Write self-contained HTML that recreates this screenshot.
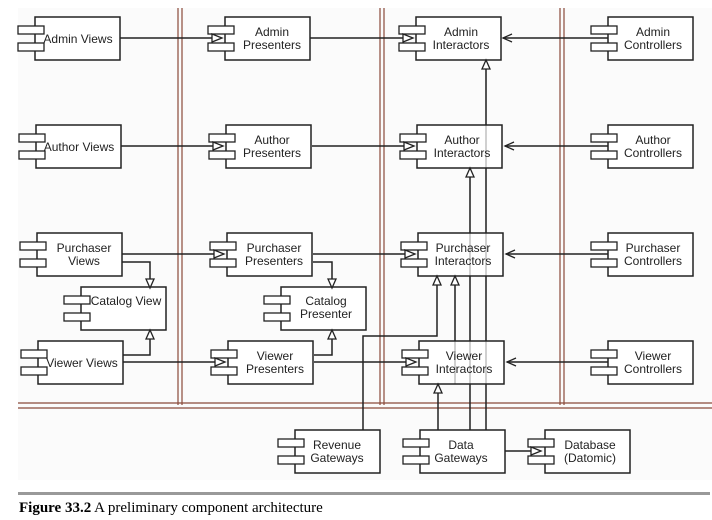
<!DOCTYPE html>
<html><head><meta charset="utf-8"><style>
html,body{margin:0;padding:0;background:#fff;width:712px;height:520px;overflow:hidden}
svg text{font-family:"Liberation Sans",Arial,sans-serif;font-size:12px;fill:#222}
.cap{font-family:"Liberation Serif","Times New Roman",serif;font-size:15px;fill:#000}
</style></head><body>
<svg width="712" height="520" viewBox="0 0 712 520" xmlns="http://www.w3.org/2000/svg">
<defs>
<g id="c">
<rect x="0" y="0" width="85" height="43" fill="#fff" stroke="#222" stroke-width="1.5"/>
<rect x="-17" y="9" width="26" height="8" fill="#fff" stroke="#222" stroke-width="1.3"/>
<rect x="-17" y="26" width="26" height="8" fill="#fff" stroke="#222" stroke-width="1.3"/>
</g>
</defs>
<rect x="18" y="8" width="694" height="472" fill="#fbfbfb"/>
<!-- swimlane lines -->
<g stroke="#8a4a3a" stroke-width="1.2">
<line x1="178" y1="8" x2="178" y2="405"/><line x1="182" y1="8" x2="182" y2="405"/>
<line x1="380" y1="8" x2="380" y2="405"/><line x1="384" y1="8" x2="384" y2="405"/>
<line x1="560" y1="8" x2="560" y2="405"/><line x1="564" y1="8" x2="564" y2="405"/>
<line x1="18" y1="403" x2="712" y2="403"/><line x1="18" y1="408" x2="712" y2="408"/>
</g>
<!-- connectors -->
<g stroke="#222" stroke-width="1.5" fill="none">
<line x1="119" y1="38" x2="218" y2="38"/>
<line x1="120" y1="146" x2="218" y2="146"/>
<line x1="121" y1="254" x2="218" y2="254"/>
<line x1="122" y1="362" x2="218" y2="362"/>
<line x1="310" y1="38" x2="408" y2="38"/>
<line x1="312" y1="146" x2="408" y2="146"/>
<line x1="313" y1="254" x2="408" y2="254"/>
<line x1="314" y1="362" x2="408" y2="362"/>
<line x1="608" y1="38" x2="503" y2="38"/>
<line x1="608" y1="146" x2="505" y2="146"/>
<line x1="608" y1="254" x2="506" y2="254"/>
<line x1="608" y1="362" x2="507" y2="362"/>
<polyline points="121,262 150,262 150,280"/>
<polyline points="122,355 150,355 150,337"/>
<polyline points="313,262 332,262 332,280"/>
<polyline points="314,355 332,355 332,337"/>
<line x1="486" y1="430" x2="486" y2="67"/>
<line x1="470" y1="430" x2="470" y2="175"/>
<line x1="455" y1="341" x2="455" y2="283"/>
<polyline points="363,430 363,336 437,336 437,283"/>
<line x1="438" y1="430" x2="438" y2="391"/>
<line x1="505" y1="451" x2="538" y2="451"/>
</g>
<!-- components -->
<use href="#c" x="35" y="17"/><use href="#c" x="36" y="125"/><use href="#c" x="37" y="233"/>
<use href="#c" x="81" y="287"/><use href="#c" x="38" y="341"/>
<use href="#c" x="225" y="17"/><use href="#c" x="226" y="125"/><use href="#c" x="227" y="233"/>
<use href="#c" x="281" y="287"/><use href="#c" x="228" y="341"/>
<use href="#c" x="416" y="17"/><use href="#c" x="417" y="125"/><use href="#c" x="418" y="233"/><use href="#c" x="419" y="341"/>
<use href="#c" x="608" y="17"/><use href="#c" x="608" y="125"/><use href="#c" x="608" y="233"/><use href="#c" x="608" y="341"/>
<use href="#c" x="295" y="430"/><use href="#c" x="420" y="430"/><use href="#c" x="545" y="430"/>
<!-- faint overlapping lines through boxes -->
<g stroke="#222" stroke-width="1.2" opacity="0.35">
<line x1="486" y1="60" x2="486" y2="384"/><line x1="470" y1="168" x2="470" y2="384"/>
<line x1="455" y1="276" x2="455" y2="384"/>
</g>
<!-- arrowheads: open triangles -->
<g fill="#fff" stroke="#222" stroke-width="1.3">
<polygon points="212,34 222,38 212,42"/><polygon points="213,142 223,146 213,150"/>
<polygon points="214,250 224,254 214,258"/><polygon points="215,358 225,362 215,366"/>
<polygon points="403,34 413,38 403,42"/><polygon points="404,142 414,146 404,150"/>
<polygon points="405,250 415,254 405,258"/><polygon points="406,358 416,362 406,366"/>
<polygon points="146,279 150,288 154,279"/><polygon points="146,339 150,330 154,339"/>
<polygon points="328,279 332,288 336,279"/><polygon points="328,339 332,330 336,339"/>
<polygon points="482,69 486,60 490,69"/><polygon points="466,177 470,168 474,177"/>
<polygon points="433,285 437,276 441,285"/><polygon points="451,285 455,276 459,285"/>
<polygon points="434,393 438,384 442,393"/>
<polygon points="531,447 541,451 531,455"/>
</g>
<g fill="none" stroke="#222" stroke-width="1.3">
<polyline points="512,34 503,38 512,42"/><polyline points="514,142 505,146 514,150"/>
<polyline points="515,250 506,254 515,258"/><polyline points="516,358 507,362 516,366"/>
</g>
<!-- labels -->
<g text-anchor="middle">
<text x="78" y="43">Admin Views</text>
<text x="79" y="151">Author Views</text>
<text x="84" y="252">Purchaser</text><text x="84" y="265">Views</text>
<text x="126" y="305">Catalog View</text>
<text x="82" y="367">Viewer Views</text>
<text x="272" y="36">Admin</text><text x="272" y="49">Presenters</text>
<text x="272" y="144">Author</text><text x="272" y="157">Presenters</text>
<text x="274" y="252">Purchaser</text><text x="274" y="265">Presenters</text>
<text x="326" y="305">Catalog</text><text x="326" y="318">Presenter</text>
<text x="275" y="360">Viewer</text><text x="275" y="373">Presenters</text>
<text x="461" y="36">Admin</text><text x="461" y="49">Interactors</text>
<text x="462" y="144">Author</text><text x="462" y="157">Interactors</text>
<text x="463" y="252">Purchaser</text><text x="463" y="265">Interactors</text>
<text x="464" y="360">Viewer</text><text x="464" y="373">Interactors</text>
<text x="653" y="36">Admin</text><text x="653" y="49">Controllers</text>
<text x="653" y="144">Author</text><text x="653" y="157">Controllers</text>
<text x="653" y="252">Purchaser</text><text x="653" y="265">Controllers</text>
<text x="653" y="360">Viewer</text><text x="653" y="373">Controllers</text>
<text x="337" y="449">Revenue</text><text x="337" y="462">Gateways</text>
<text x="461" y="449">Data</text><text x="461" y="462">Gateways</text>
<text x="590" y="449">Database</text><text x="590" y="462">(Datomic)</text>
</g>
<rect x="18" y="492" width="692" height="3" fill="#999"/>
<text class="cap" x="19" y="512"><tspan font-weight="bold">Figure 33.2</tspan> A preliminary component architecture</text>
</svg>
</body></html>
